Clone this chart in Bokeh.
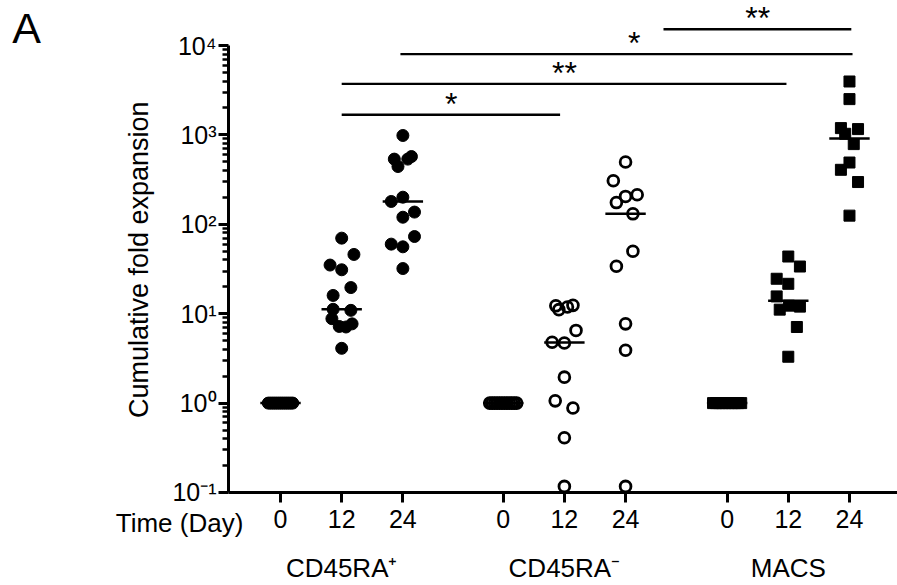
import numpy as np
from bokeh.plotting import figure
from bokeh.models import Range1d, FixedTicker, LinearAxis
from bokeh.core.properties import value
from bokeh.embed import file_html
from bokeh.resources import INLINE

FONT = "Liberation Sans"

# ---------------- data ----------------
groups = ["CD45RA\u207a", "CD45RA\u207b", "MACS"]
days = ["0", "12", "24"]
y_ticks = [0.1, 1, 10, 100, 1000, 10000]
y_tick_labels = ["10\u207b\u00b9", "10\u2070", "10\u00b9", "10\u00b2", "10\u00b3", "10\u2074"]

# CD45RA+ (filled circles)
cd45p_d0 = [1, 1, 1, 1, 1, 1, 1, 1, 1, 1, 1, 1, 1]
cd45p_d12 = [70, 46, 35, 31, 19.6, 16, 11.2, 10.9, 8.8, 7.2, 7.1, 7.7, 4.1]
cd45p_d24 = [985, 536, 573, 536, 443, 180, 201, 137, 120, 73, 60, 56, 32]
# CD45RA- (open circles)
cd45n_d0 = [1, 1, 1, 1, 1, 1, 1, 1, 1, 1, 1, 1]
cd45n_d12 = [12.25, 11.1, 11.9, 12.4, 6.5, 4.8, 4.7, 1.95, 1.06, 0.88, 0.41, 0.117]
cd45n_d24 = [497, 307, 205, 214, 175, 131, 50, 34, 7.7, 3.9, 0.117]
# MACS (filled squares)
macs_d0 = [1, 1, 1, 1, 1, 1, 1, 1, 1, 1]
macs_d12 = [43.6, 33.7, 24.6, 21.6, 15.6, 11.1, 12.3, 12.0, 7.1, 3.3]
macs_d24 = [3957, 2514, 1191, 1161, 1029, 789, 491, 407, 297, 125]

# horizontal scatter of points inside each column
jit_p_d0 = [-0.2, -0.167, -0.133, -0.1, -0.067, -0.033, 0, 0.033, 0.067, 0.1, 0.133, 0.167, 0.2]
jit_p_d12 = [0, 0.2, -0.19, 0, 0.15, -0.14, -0.14, 0.15, -0.16, -0.04, 0.07, 0.17, 0]
jit_p_d24 = [0, -0.14, 0.14, 0.08, -0.08, -0.19, 0, 0.19, 0, 0.19, -0.19, 0, 0]
jit_n_d0 = [-0.22, -0.18, -0.14, -0.1, -0.06, -0.02, 0.02, 0.06, 0.1, 0.14, 0.18, 0.22]
jit_n_d12 = [-0.14, -0.09, 0.05, 0.14, 0.19, -0.2, 0, 0, -0.15, 0.14, 0, 0]
jit_n_d24 = [0, -0.2, 0, 0.19, -0.15, 0.12, 0.12, -0.15, 0, 0, 0]
jit_m_d0 = [-0.23, -0.18, -0.13, -0.08, -0.03, 0.03, 0.08, 0.13, 0.18, 0.23]
jit_m_d12 = [0, 0.19, -0.19, 0, -0.19, -0.14, 0.01, 0.19, 0.14, 0]
jit_m_d24 = [0, 0, -0.14, 0.14, -0.07, 0.07, 0, -0.14, 0.14, 0]

# significance brackets
sig_x0 = [1, 1, 1.96, 6.26]
sig_x1 = [4.57, 8.27, 9.35, 9.33]
sig_y = [1680, 3730, 8000, 15200]
sig_label_x = [2.79, 4.64, 5.78, 7.8]
sig_label = ["*", "**", "*", "**"]

# ---------------- layout ----------------
slot_x = [0, 1, 2, 3.64, 4.64, 5.64, 7.3, 8.3, 9.3]
X0, X1 = -4.577, 10.085          # whole canvas width in data units
Y0, Y1 = 10 ** -2.0403, 10 ** 4.5034   # whole canvas height (log)
AX_X = -0.85                     # where the y axis stands
AX_Y = 0.1                       # where the x axis stands

series = [
    (cd45p_d0, jit_p_d0), (cd45p_d12, jit_p_d12), (cd45p_d24, jit_p_d24),
    (cd45n_d0, jit_n_d0), (cd45n_d12, jit_n_d12), (cd45n_d24, jit_n_d24),
    (macs_d0, jit_m_d0), (macs_d12, jit_m_d12), (macs_d24, jit_m_d24),
]

p = figure(width=897, height=585,
           x_range=Range1d(X0, X1), y_range=Range1d(Y0, Y1),
           y_axis_type="log",
           output_backend="svg", toolbar_location=None,
           min_border=0)
p.outline_line_color = None
p.xgrid.visible = False
p.ygrid.visible = False
p.background_fill_color = "white"
p.border_fill_color = "white"

for i, (vals, jit) in enumerate(series):
    g = i // 3
    xs = [slot_x[i] + j for j in jit]
    if g == 0:
        p.scatter(xs, vals, marker="circle", size=12, fill_color="black",
                  line_color="black", line_width=1)
    elif g == 1:
        p.scatter(xs, vals, marker="circle", size=10.8, fill_color=None,
                  line_color="black", line_width=2.8)
    else:
        p.scatter(xs, vals, marker="square", size=11, fill_color="black",
                  line_color="black", line_width=1)
    med = float(np.median(vals))
    p.segment(x0=[slot_x[i] - 0.33], x1=[slot_x[i] + 0.33], y0=[med], y1=[med],
              line_color="black", line_width=2.5)

p.segment(x0=sig_x0, x1=sig_x1, y0=sig_y, y1=sig_y, line_color="black", line_width=2.3)
p.text(x=sig_label_x, y=sig_y, text=sig_label, text_font=value(FONT),
       text_font_size="32px", text_align="center", text_baseline="alphabetic",
       y_offset=-11, text_color="black")

# y axis
ya = p.left[0]
ya.fixed_location = AX_X
ya.ticker = FixedTicker(ticks=y_ticks,
                        minor_ticks=[m * 10 ** e for e in range(-1, 4) for m in range(2, 10)])
ya.major_label_overrides = {t: l for t, l in zip(y_ticks, y_tick_labels)}
ya.bounds = (0.1, 10000)
ya.axis_line_width = 3
ya.axis_line_color = "black"
ya.major_tick_in = 0
ya.major_tick_out = 10
ya.major_tick_line_width = 3
ya.minor_tick_in = 0
ya.minor_tick_out = 6
ya.minor_tick_line_width = 2.5
ya.major_label_text_font = FONT
ya.major_label_text_font_size = "25px"
ya.major_label_text_color = "black"
ya.major_label_standoff = 2

# x axis (time points)
xa = p.below[0]
xa.fixed_location = AX_Y
xa.ticker = FixedTicker(ticks=slot_x, minor_ticks=[])
xa.major_label_overrides = {x: days[i % 3] for i, x in enumerate(slot_x)}
xa.bounds = (AX_X, X1)
xa.axis_line_width = 3
xa.axis_line_color = "black"
xa.major_tick_in = 0
xa.major_tick_out = 10
xa.major_tick_line_width = 3
xa.minor_tick_line_color = None
xa.major_label_text_font = FONT
xa.major_label_text_font_size = "25px"
xa.major_label_text_color = "black"
xa.major_label_standoff = 8

# group axis
group_x = [slot_x[1], slot_x[4], slot_x[7]]
ga = LinearAxis(ticker=FixedTicker(ticks=group_x, minor_ticks=[]),
                fixed_location=AX_Y,
                major_label_overrides={x: g for x, g in zip(group_x, groups)},
                axis_line_color=None, major_tick_line_color=None,
                minor_tick_line_color=None, major_tick_out=0, major_tick_in=0,
                major_label_standoff=61,
                major_label_text_font=FONT, major_label_text_font_size="26px",
                major_label_text_color="black")
p.add_layout(ga, "below")

# free texts: y title, row title, panel letter
p.text(x=[-2.321], y=[40.1], text=["Cumulative fold expansion"], angle=np.pi / 2,
       text_font=value(FONT), text_font_size="27px", text_align="center",
       text_baseline="middle", text_color="black")
p.text(x=[-1.651], y=[0.0458], text=["Time (Day)"],
       text_font=value(FONT), text_font_size="26px", text_align="center",
       text_baseline="middle", text_color="black")
p.text(x=[-4.15], y=[15570], text=["A"],
       text_font=value(FONT), text_font_size="43px", text_align="center",
       text_baseline="middle", text_color="black")

open("out.html", "w").write(file_html(p, INLINE))
